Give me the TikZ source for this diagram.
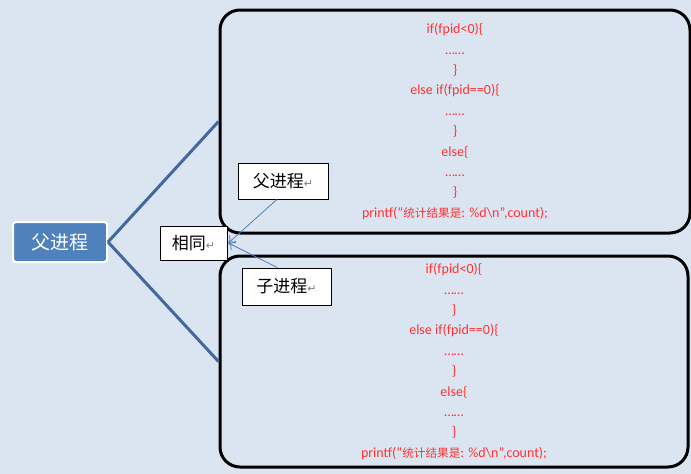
\documentclass[tikz,border=0pt]{standalone}
\usepackage{fontspec}
\setmainfont{Carlito}
\newfontfamily\cjk{Noto Sans CJK SC}
\newfontfamily\cjksmall[Scale=0.83]{Noto Sans CJK SC}
\newfontfamily\symfont{DejaVu Sans}
\usepackage{tikz}
\usetikzlibrary{arrows,arrows.meta,shapes,positioning}
\definecolor{bgblue}{HTML}{DBE5F1}
\definecolor{nodeblue}{HTML}{4F81BD}
\definecolor{linkblue}{HTML}{41699E}
\definecolor{codered}{HTML}{FF3333}
\newcommand{\retmark}{{\symfont\color{gray}\fontsize{11}{11}\selectfont ↵}}
\newcommand{\fpidcode}{if(fpid<0)\{\\ ……\\ \}\\ else if(fpid==0)\{\\ ……\\ \}\\ else\{\\ ……\\ \}\\ printf(\symbol{34}{\cjksmall 统计结果是}: \%d\textbackslash n\symbol{34},count);}

\begin{document}
\begin{tikzpicture}[x=1pt,y=-1pt,
		codebox/.style={draw=black, line width=3pt, rounded corners=20pt, align=center, text=codered, inner sep=0pt, font=\fontsize{14}{20.4}\selectfont},
		tagbox/.style={draw=black, fill=white, line width=0.8pt, inner sep=0pt, font=\cjk\fontsize{17}{17}\selectfont},
		link/.style={draw=linkblue, line width=3pt},
		pointer/.style={draw=nodeblue, line width=0.8pt, -{To[length=6pt,width=10pt]}}]
	\useasboundingbox (0,0) rectangle (691,474);
	\fill[bgblue] (0,0) rectangle (691,474);
	% two copies of the program
	\node[codebox, minimum width=470pt, minimum height=223pt] (upper) at (455,121.5) {\fpidcode};
	\node[codebox, minimum width=468pt, minimum height=211pt] (lower) at (454,361.5) {\fpidcode};
	% parent process
	\node[fill=nodeblue, draw=white, line width=2pt, rounded corners=3pt, minimum width=94pt, minimum height=40pt, text=white, font=\cjk\fontsize{19}{19}\selectfont] (parent) at (60,242) {父进程};
	\draw[link] (parent.east) -- (upper.west);
	\draw[link] (parent.east) -- (lower.west);
	% labels
	\node[tagbox, minimum width=67pt, minimum height=34pt] (same) at (193.5,243) {相同\retmark};
	\node[tagbox, minimum width=90pt, minimum height=36pt] (fuTag) at (283,181) {父进程\retmark};
	\node[tagbox, minimum width=89pt, minimum height=37pt] (ziTag) at (286.5,286.5) {子进程\retmark};
	\draw[pointer] ([xshift=-6pt]fuTag.south) -- ([xshift=1pt]same.east);
	\draw[pointer] ([xshift=-9pt]ziTag.north) -- ([xshift=1pt]same.east);
\end{tikzpicture}
\end{document}
